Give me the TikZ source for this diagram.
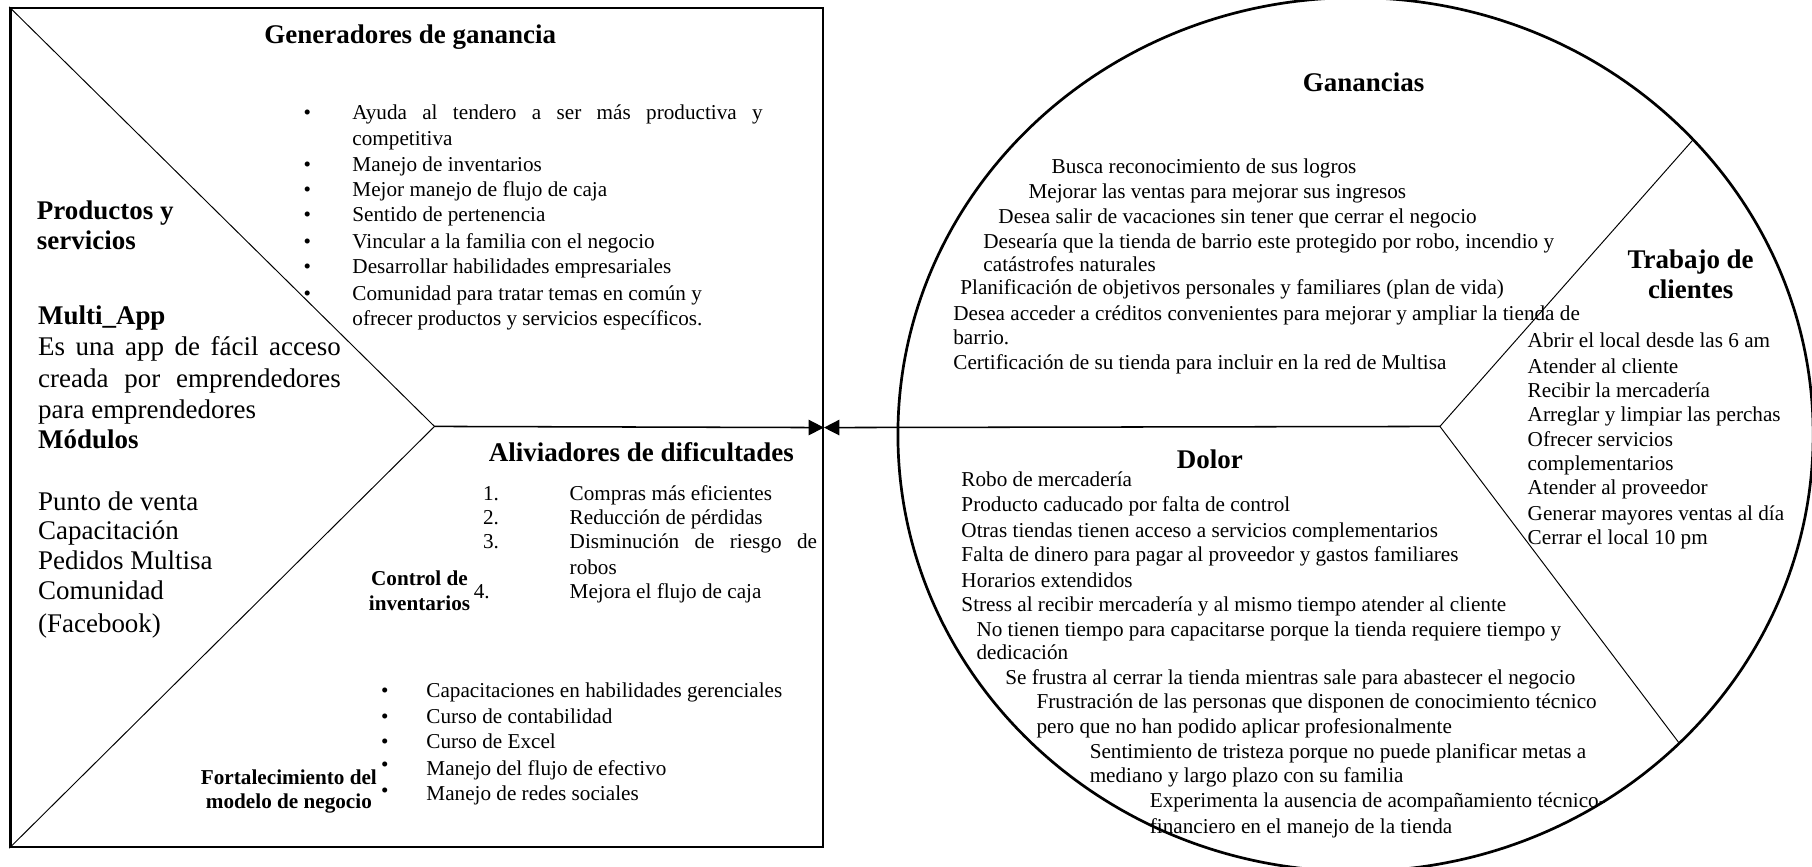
\documentclass[tikz,border=0pt]{standalone}
\usepackage{fontspec}
\setmainfont{Liberation Serif}
\usetikzlibrary{shapes.geometric,arrows.meta}
\newlength\uu \setlength\uu{0.6pt}
\newcommand\fbody{\fontsize{11}{13}\selectfont}
\newcommand\fhead{\fontsize{14}{16}\selectfont\bfseries}
\newcommand\fbig{\fontsize{14}{16.2}\selectfont}
\newcommand\fsb{\fontsize{11}{12.6}\selectfont\bfseries}
\begin{document}
\begin{tikzpicture}[x=0.6pt,y=-0.6pt,
  txt/.style={anchor=base west,inner sep=0,outer sep=0,font=\fbody},
  bul/.style={anchor=base,inner sep=0,outer sep=0,font=\fbody},
  head/.style={anchor=base,inner sep=0,outer sep=0,font=\fhead},
  big/.style={anchor=base west,inner sep=0,outer sep=0,font=\fbig},
  bigb/.style={anchor=base west,inner sep=0,outer sep=0,font=\fhead},
  lab/.style={anchor=base,inner sep=0,outer sep=0,font=\fsb,align=center},
  tipline/.style={line width=0.8pt,-{Triangle[length=8pt,width=8pt]}}]
\useasboundingbox (0,0) rectangle (1568,750);
% left square
\node[draw,line width=1.2pt,minimum width=703\uu,minimum height=726\uu,inner sep=0,anchor=north west] (sq) at (8,6) {};
\coordinate (apex) at (376,369);
\draw[line width=0.5pt] (sq.north west) -- (apex) -- (sq.south west);
\draw[tipline] (apex) -- (sq.east);
% circle
\node[draw,ellipse,line width=1.4pt,minimum width=792\uu,minimum height=756\uu,inner sep=0] (circ) at (1173,376) {};
\coordinate (junc) at (1246,369);
\coordinate (tu) at (1465,121);
\coordinate (tl) at (1453,643);
\draw[tipline] (junc) -- (sq.east);
\draw[line width=0.5pt] (tu) -- (junc) -- (tl);

% Generadores de ganancia
\node[head] (hgen) at (355,38) {Generadores de ganancia};
\foreach \yy [count=\i] in {103,148,170,192,215,237,260}
  \node[bul] (gb\i) at (266,\yy) {\textbullet};
\node[txt] (g1) at (305,103) {\makebox[355\uu][s]{Ayuda al tendero a ser más productiva y}};
\node[txt] (g2) at (305,126) {competitiva};
\node[txt] (g3) at (305,148) {Manejo de inventarios};
\node[txt] (g4) at (305,170) {Mejor manejo de flujo de caja};
\node[txt] (g5) at (305,192) {Sentido de pertenencia};
\node[txt] (g6) at (305,215) {Vincular a la familia con el negocio};
\node[txt] (g7) at (305,237) {Desarrollar habilidades empresariales};
\node[txt] (g8) at (305,260) {Comunidad para tratar temas en común y};
\node[txt] (g9) at (305,282) {ofrecer productos y servicios específicos.};

% Productos y servicios
\node[bigb] (p1) at (32,190) {Productos y};
\node[bigb] (p2) at (32,216) {servicios};
\node[bigb] (p3) at (33,281) {Multi\_App};
\node[big] (p4) at (33,308) {\makebox[262\uu][s]{Es una app de fácil acceso}};
\node[big] (p5) at (33,335) {\makebox[262\uu][s]{creada por emprendedores}};
\node[big] (p6) at (33,362) {para emprendedores};
\node[bigb] (p7) at (33,388) {Módulos};
\node[big] (p8) at (33,442) {Punto de venta};
\node[big] (p9) at (33,467) {Capacitación};
\node[big] (p10) at (33,493) {Pedidos Multisa};
\node[big] (p11) at (33,519) {Comunidad};
\node[big] (p12) at (33,547) {(Facebook)};

% Aliviadores de dificultades
\node[head] (hali) at (555,399) {Aliviadores de dificultades};
\node[txt] (n1) at (418,433) {1.};
\node[txt] (n2) at (418,454) {2.};
\node[txt] (n3) at (418,475) {3.};
\node[txt] (n4) at (410,518) {4.};
\node[txt] (a1) at (493,433) {Compras más eficientes};
\node[txt] (a2) at (493,454) {Reducción de pérdidas};
\node[txt] (a3) at (493,475) {\makebox[214\uu][s]{Disminución de riesgo de}};
\node[txt] (a4) at (493,497) {robos};
\node[txt] (a5) at (493,518) {Mejora el flujo de caja};
\node[lab] (ctl) at (363,528) {Control de\\inventarios};

% Fortalecimiento
\foreach \yy [count=\i] in {604,626,648,668,690}
  \node[bul] (fb\i) at (333,\yy) {\textbullet};
\node[txt] (f1) at (369,604) {Capacitaciones en habilidades gerenciales};
\node[txt] (f2) at (369,626) {Curso de contabilidad};
\node[txt] (f3) at (369,648) {Curso de Excel};
\node[txt] (f4) at (369,671) {Manejo del flujo de efectivo};
\node[txt] (f5) at (369,693) {Manejo de redes sociales};
\node[lab] (fort) at (250,700) {Fortalecimiento del\\modelo de negocio};

% Ganancias
\node[head] (hgan) at (1180,79) {Ganancias};
\node[txt] (k1) at (910,150) {Busca reconocimiento de sus logros};
\node[txt] (k2) at (890,172) {Mejorar las ventas para mejorar sus ingresos};
\node[txt] (k3) at (864,193) {Desea salir de vacaciones sin tener que cerrar el negocio};
\node[txt] (k4) at (851,215) {Desearía que la tienda de barrio este protegido por robo, incendio y};
\node[txt] (k5) at (851,235) {catástrofes naturales};
\node[txt] (k6) at (831,255) {Planificación de objetivos personales y familiares (plan de vida)};
\node[txt] (k7) at (825,277) {Desea acceder a créditos convenientes para mejorar y ampliar la tienda de};
\node[txt] (k8) at (825,298) {barrio.};
\node[txt] (k9) at (825,320) {Certificación de su tienda para incluir en la red de Multisa};

% Dolor
\node[head] (hdol) at (1047,405) {Dolor};
\node[txt] (d1) at (832,421) {Robo de mercadería};
\node[txt] (d2) at (832,443) {Producto caducado por falta de control};
\node[txt] (d3) at (832,465) {Otras tiendas tienen acceso a servicios complementarios};
\node[txt] (d4) at (832,486) {Falta de dinero para pagar al proveedor y gastos familiares};
\node[txt] (d5) at (832,508) {Horarios extendidos};
\node[txt] (d6) at (832,529) {Stress al recibir mercadería y al mismo tiempo atender al cliente};
\node[txt] (d7) at (845,551) {No tienen tiempo para capacitarse porque la tienda requiere tiempo y};
\node[txt] (d8) at (845,571) {dedicación};
\node[txt] (d9) at (870,592) {Se frustra al cerrar la tienda mientras sale para abastecer el negocio};
\node[txt] (d10) at (897,613) {Frustración de las personas que disponen de conocimiento técnico};
\node[txt] (d11) at (897,635) {pero que no han podido aplicar profesionalmente};
\node[txt] (d12) at (943,656) {Sentimiento de tristeza porque no puede planificar metas a};
\node[txt] (d13) at (943,677) {mediano y largo plazo con su familia};
\node[txt] (d14) at (995,699) {Experimenta la ausencia de acompañamiento técnico-};
\node[txt] (d15) at (995,721) {financiero en el manejo de la tienda};

% Trabajo de clientes
\node[head] (htr1) at (1463,232) {Trabajo de};
\node[head] (htr2) at (1463,258) {clientes};
\node[txt] (t1) at (1322,301) {Abrir el local desde las 6 am};
\node[txt] (t2) at (1322,323) {Atender al cliente};
\node[txt] (t3) at (1322,344) {Recibir la mercadería};
\node[txt] (t4) at (1322,365) {Arreglar y limpiar las perchas};
\node[txt] (t5) at (1322,386) {Ofrecer servicios};
\node[txt] (t6) at (1322,407) {complementarios};
\node[txt] (t7) at (1322,428) {Atender al proveedor};
\node[txt] (t8) at (1322,450) {Generar mayores ventas al día};
\node[txt] (t9) at (1322,471) {Cerrar el local 10 pm};
\end{tikzpicture}
\end{document}
